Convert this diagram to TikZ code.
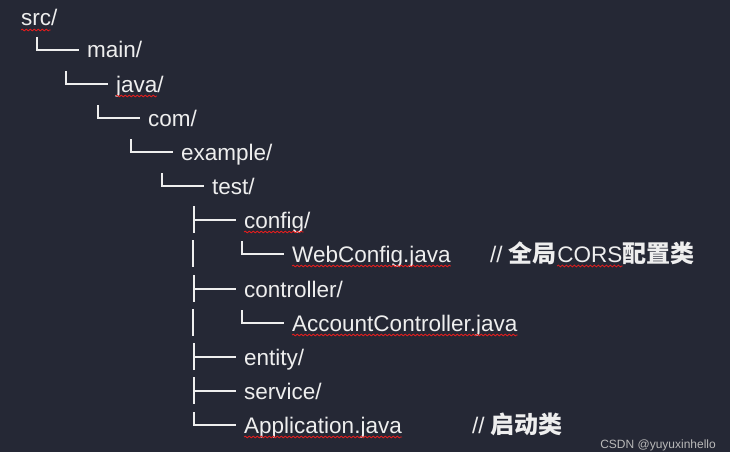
\documentclass[tikz,border=0pt]{standalone}
\usepackage{fontspec}
\setmainfont{Liberation Sans}
\newfontfamily\cjk{Noto Sans CJK SC}
\usetikzlibrary{calc,decorations.pathmorphing}

\definecolor{bgdark}{RGB}{37,40,53}
\definecolor{txtwhite}{RGB}{238,238,238}
\definecolor{squigred}{RGB}{225,30,30}
\definecolor{wmgray}{RGB}{185,185,185}

\tikzset{
    entry/.style={anchor=base west, inner sep=0pt, text=txtwhite,
                  font=\fontsize{22.5}{27}\selectfont},
    branch/.style={draw=txtwhite, line width=1.6pt},
    squiggle/.style={draw=squigred, line width=0.8pt, decorate,
                     decoration={snake, amplitude=0.9pt, segment length=4pt}},
}

% bold Chinese in the comments
\newcommand{\zh}[1]{{\fontsize{24}{28}\selectfont\cjk\bfseries #1}}

% tree glyphs, all relative to the entry they lead to
\newcommand{\lastbranch}[1]{\draw[branch] ($(#1.base west)+(-50,-21)$) |- ($(#1.base west)+(-8,-8)$);}
\newcommand{\midbranch}[1]{\draw[branch] ($(#1.base west)+(-50,-22)$) -- ($(#1.base west)+(-50,5)$)
    ($(#1.base west)+(-50,-8)$) -- ($(#1.base west)+(-8,-8)$);}
\newcommand{\passbar}[1]{\draw[branch] ($(#1.base west)+(-99,-22)$) -- ($(#1.base west)+(-99,5)$);}
\newcommand{\squig}[2]{\draw[squiggle] ($(#1.base west)+(0,4)$) -- ($(#1.base east)+(-#2,4)$);}

\begin{document}
\begin{tikzpicture}[x=1pt, y=-1pt]
    % Background
    \fill[bgdark] (0,0) rectangle (730,452);
    \useasboundingbox (0,0) rectangle (730,452);

    % Entries
    \node[entry] (src) at (21,26) {src/};
    \node[entry] (main) at (87,58) {main/};
    \node[entry] (java) at (116,92) {java/};
    \node[entry] (com) at (148,126) {com/};
    \node[entry] (example) at (181,160) {example/};
    \node[entry] (test) at (212,194) {test/};
    \node[entry] (config) at (244,228) {config/};
    \node[entry] (webconfig) at (292,262) {WebConfig.java};
    \node[entry] (controller) at (244,297) {controller/};
    \node[entry] (acctrl) at (292,331) {AccountController.java};
    \node[entry] (entity) at (244,365) {entity/};
    \node[entry] (service) at (244,399) {service/};
    \node[entry] (app) at (244,433) {Application.java};

    % Comments
    \node[entry] (webnote) at (490,262) {// \zh{全局}};
    \node[entry] (cors) at (webnote.base east) {CORS};
    \node[entry] (webnote2) at (cors.base east) {\zh{配置类}};
    \node[entry] (appnote) at (472,433) {// \zh{启动类}};

    % Tree lines
    \lastbranch{main}
    \lastbranch{java}
    \lastbranch{com}
    \lastbranch{example}
    \lastbranch{test}
    \foreach \n in {config,controller,entity,service} \midbranch{\n};
    \foreach \n in {webconfig,acctrl,app} \lastbranch{\n};
    \foreach \n in {webconfig,acctrl} \passbar{\n};

    % Spell-check marks
    \squig{src}{7}
    \squig{java}{7}
    \squig{config}{7}
    \foreach \n in {webconfig,acctrl,app,cors} \squig{\n}{0};

    % Watermark
    \node[anchor=base east, inner sep=0pt, text=wmgray,
          font=\fontsize{12}{14}\selectfont] (mark) at (716,448) {CSDN @yuyuxinhello};
\end{tikzpicture}
\end{document}
